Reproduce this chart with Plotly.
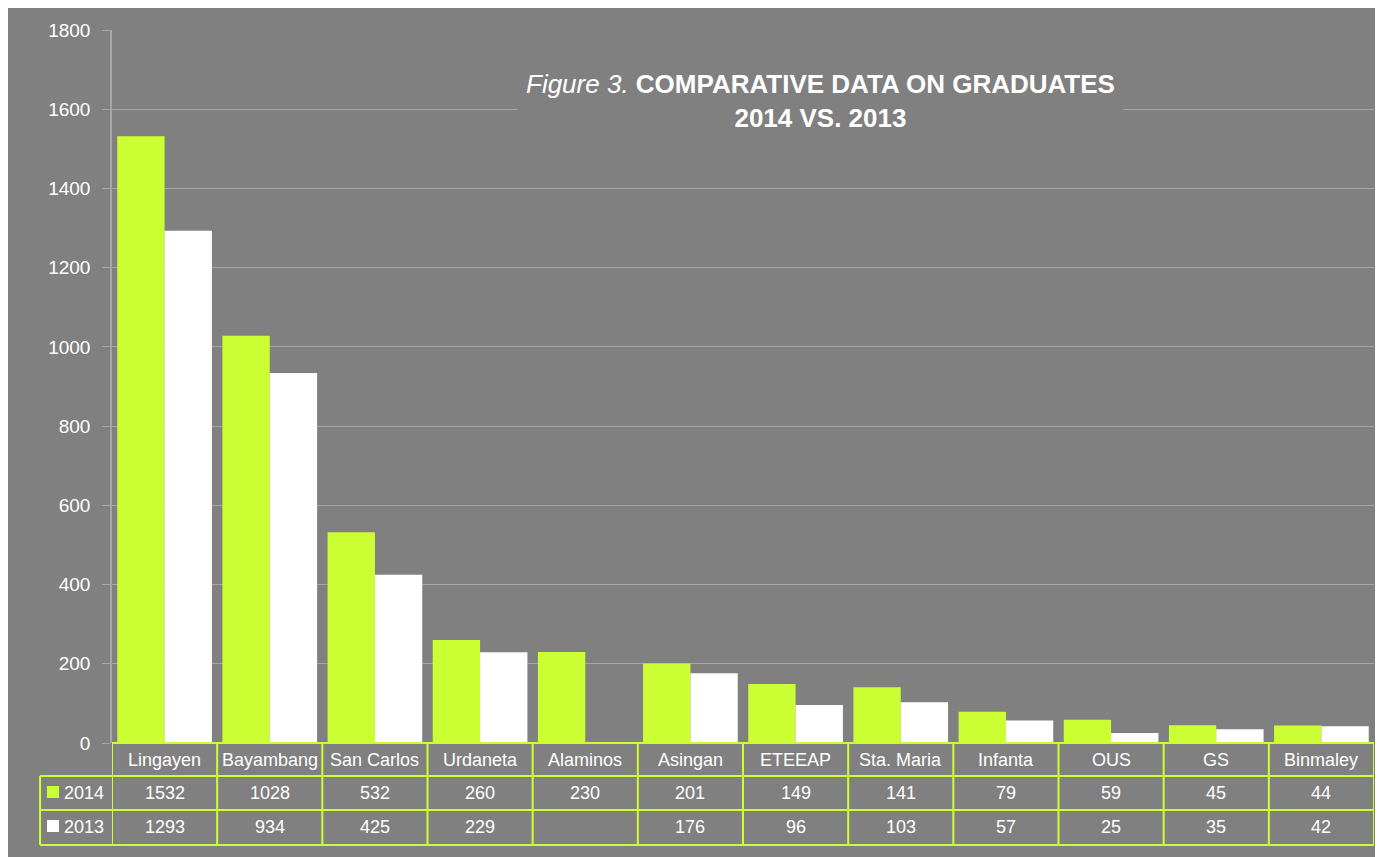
import plotly.graph_objects as go

campuses = ["Lingayen", "Bayambang", "San Carlos", "Urdaneta", "Alaminos", "Asingan",
            "ETEEAP", "Sta. Maria", "Infanta", "OUS", "GS", "Binmaley"]
grad_2014 = [1532, 1028, 532, 260, 230, 201, 149, 141, 79, 59, 45, 44]
grad_2013 = [1293, 934, 425, 229, None, 176, 96, 103, 57, 25, 35, 42]

LIME = "#CCFF33"
BG = "#808080"
GRID = "#A6A6A6"
FONT = "Liberation Sans, Arial, sans-serif"

fig = go.Figure()
fig.add_trace(go.Bar(x=campuses, y=grad_2014, name="2014", marker=dict(color=LIME, line=dict(width=0))))
fig.add_trace(go.Bar(x=campuses, y=grad_2013, name="2013", marker=dict(color="#FFFFFF", line=dict(width=0))))

# data table under the chart
row_y = [0, -0.0463, -0.094, -0.143]   # header top, row lines, bottom (paper)
left_x = -0.057
line = dict(color=LIME, width=2)
shapes = []
for i in range(len(campuses) + 1):
    shapes.append(dict(type="line", xref="x", yref="paper", x0=i - 0.5, x1=i - 0.5,
                       y0=row_y[0], y1=row_y[3], line=line))
shapes.append(dict(type="line", xref="paper", yref="paper", x0=0, x1=1, y0=row_y[0], y1=row_y[0], line=line))
for yy in row_y[1:]:
    shapes.append(dict(type="line", xref="paper", yref="paper", x0=left_x, x1=1, y0=yy, y1=yy, line=line))
shapes.append(dict(type="line", xref="paper", yref="paper", x0=left_x, x1=left_x,
                   y0=row_y[1], y1=row_y[3], line=line))
# legend keys
for col, y0, y1 in [(LIME, -0.0603, -0.0771), ("#FFFFFF", -0.108, -0.1248)]:
    shapes.append(dict(type="rect", xref="paper", yref="paper", x0=-0.0515, x1=-0.042,
                       y0=y0, y1=y1, fillcolor=col, line=dict(width=0)))

annotations = []
cell_font = dict(family=FONT, size=18, color="white")
for c, v14, v13 in zip(campuses, grad_2014, grad_2013):
    annotations.append(dict(x=c, y=(row_y[0] + row_y[1]) / 2, xref="x", yref="paper", text=c,
                            showarrow=False, font=cell_font, yanchor="middle"))
    annotations.append(dict(x=c, y=(row_y[1] + row_y[2]) / 2, xref="x", yref="paper", text=str(v14),
                            showarrow=False, font=cell_font, yanchor="middle"))
    annotations.append(dict(x=c, y=(row_y[2] + row_y[3]) / 2, xref="x", yref="paper",
                            text="" if v13 is None else str(v13),
                            showarrow=False, font=cell_font, yanchor="middle"))
for name, y0, y1 in [("2014", row_y[1], row_y[2]), ("2013", row_y[2], row_y[3])]:
    annotations.append(dict(x=-0.0395, y=(y0 + y1) / 2, xref="paper", yref="paper",
                            xanchor="left", yanchor="middle", showarrow=False, font=cell_font,
                            text=name))

# title
annotations.append(dict(x=0.5618, y=0.958, xref="paper", yref="paper", showarrow=False,
                        bgcolor=BG, borderpad=8, align="center",
                        font=dict(family=FONT, size=26, color="white"),
                        text="<i>Figure 3.</i> <b>COMPARATIVE DATA ON GRADUATES</b><br><b>2014 VS. 2013</b>"))

fig.update_layout(
    width=1368, height=849,
    margin=dict(l=104, r=2, t=22, b=114),
    paper_bgcolor=BG, plot_bgcolor=BG,
    barmode="group", bargap=0.1, bargroupgap=0,
    showlegend=False,
    font=dict(family=FONT, color="white"),
    xaxis=dict(showticklabels=False, showgrid=False, zeroline=False, showline=False,
               range=[-0.5, len(campuses) - 0.5]),
    yaxis=dict(range=[0, 1800], dtick=200, showgrid=True, gridcolor=GRID, gridwidth=1,
               zeroline=False, showline=True, linecolor=GRID, linewidth=1.5,
               ticks="outside", ticklen=8, tickcolor=GRID, ticklabelstandoff=8,
               tickfont=dict(family=FONT, size=19, color="white")),
    shapes=shapes, annotations=annotations,
)

fig.write_html("out.html")
